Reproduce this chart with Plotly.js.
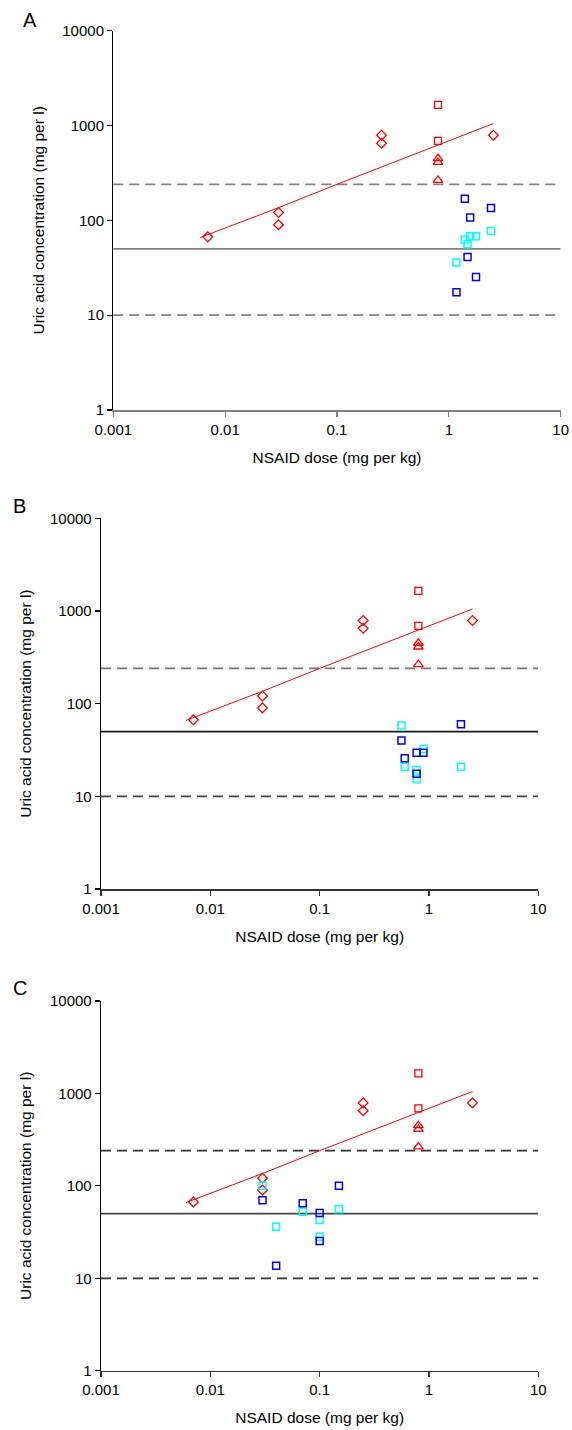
<!DOCTYPE html>
<html>
<head>
<meta charset="utf-8">
<script src="https://cdn.plot.ly/plotly-3.0.1.min.js"></script>
<style>
  html, body { margin: 0; padding: 0; background: #ffffff; }
  #chart { width: 572px; height: 1430px; }
</style>
</head>
<body>
<div id="chart"></div>
<script>
// ---------- data ----------
const doseTicks = [0.001, 0.01, 0.1, 1, 10];
const doseTickText = ["0.001", "0.01", "0.1", "1", "10"];
const uricTicks = [1, 10, 100, 1000, 10000];
const uricTickText = ["1", "10", "100", "1000", "10000"];

// red reference series (identical in all three panels)
const redDiamondDose = [0.007, 0.03, 0.03, 0.25, 0.25, 2.5];
const redDiamondUric = [67, 121, 90, 790, 650, 790];
const redSquareDose = [0.8, 0.8];
const redSquareUric = [1650, 690];
const redTriangleDose = [0.8, 0.8, 0.8];
const redTriangleUric = [450, 410, 265];
const fitDose = [0.006, 0.03, 0.1, 0.25, 0.4, 0.75, 1.35, 2.5];
const fitUric = [66, 136, 240, 365, 450, 600, 780, 1050];

// horizontal reference levels
const levelDose = [0.001, 10];
const upperLevel = 240;
const middleLevel = 50;
const lowerLevel = 10;

// panel A
const aBlueDose = [1.39, 2.38, 1.55, 1.47, 1.75, 1.17];
const aBlueUric = [169, 135, 107, 41, 25.3, 17.4];
const aCyanDose = [2.38, 1.55, 1.75, 1.39, 1.47, 1.17];
const aCyanUric = [77, 68, 68, 63, 56, 36];
// panel B
const bBlueDose = [1.96, 0.56, 0.77, 0.89, 0.6, 0.77];
const bBlueUric = [60, 40, 29.6, 29.6, 25.7, 17.5];
const bCyanDose = [0.56, 0.89, 0.6, 1.96, 0.77, 0.77];
const bCyanUric = [58, 32.4, 20.9, 20.9, 19.2, 15.4];
// panel C
const cBlueDose = [0.03, 0.04, 0.07, 0.1, 0.1, 0.15];
const cBlueUric = [70, 13.7, 65, 51, 25.3, 100];
const cCyanDose = [0.03, 0.04, 0.07, 0.1, 0.1, 0.15];
const cCyanUric = [100, 36, 52.5, 42.7, 28.2, 55.7];

const panelLabels = ["A", "B", "C"];
const xTitle = "NSAID dose (mg per kg)";
const yTitle = "Uric acid concentration (mg per l)";

// ---------- build ----------
const W = 572, H = 1430;
const panels = [
  { xs: 'x',  ys: 'y',  left: 113.3, right: 560.7, top: 30.7,  bottom: 410,
    blue: [aBlueDose, aBlueUric], cyan: [aCyanDose, aCyanUric],
    lineCols: ['#808080', '#808080', '#808080'], xLine: '#808080', label: [30, 20] },
  { xs: 'x2', ys: 'y2', left: 101, right: 538.3, top: 518.3, bottom: 889,
    blue: [bBlueDose, bBlueUric], cyan: [bCyanDose, bCyanUric],
    lineCols: ['#777777', '#1a1a1a', '#444444'], xLine: '#333333', label: [19.5, 506] },
  { xs: 'x3', ys: 'y3', left: 101, right: 538.3, top: 1001, bottom: 1370.7,
    blue: [cBlueDose, cBlueUric], cyan: [cCyanDose, cCyanUric],
    lineCols: ['#333333', '#444444', '#333333'], xLine: '#333333', label: [19.5, 988.5] }
];

const traces = [];
const layout = {
  width: W, height: H,
  margin: { l: 0, r: 0, t: 0, b: 0 },
  paper_bgcolor: '#ffffff', plot_bgcolor: '#ffffff',
  showlegend: false,
  font: { family: 'Liberation Sans, Arial, sans-serif', color: '#000000' },
  annotations: []
};

panels.forEach((p, i) => {
  const common = { xaxis: p.xs, yaxis: p.ys, hoverinfo: 'skip', cliponaxis: false };
  const lv = [[upperLevel, 'dash'], [middleLevel, 'solid'], [lowerLevel, 'dash']];
  lv.forEach((l, k) => {
    traces.push(Object.assign({}, common, {
      type: 'scatter', mode: 'lines', x: levelDose, y: [l[0], l[0]],
      line: { color: p.lineCols[k], width: 1.8, dash: l[1] === 'dash' ? '10px,6px' : 'solid' }
    }));
  });
  traces.push(Object.assign({}, common, {
    type: 'scatter', mode: 'lines', x: fitDose, y: fitUric,
    line: { color: '#ff0000', width: 1 }
  }));
  traces.push(Object.assign({}, common, {
    type: 'scatter', mode: 'markers', x: redDiamondDose, y: redDiamondUric,
    marker: { symbol: 'diamond-open', size: 7.5, color: '#ff0000', line: { width: 1.3, color: '#ff0000' } }
  }));
  traces.push(Object.assign({}, common, {
    type: 'scatter', mode: 'markers', x: redSquareDose, y: redSquareUric,
    marker: { symbol: 'square-open', size: 7, color: '#ff0000', line: { width: 1.3, color: '#ff0000' } }
  }));
  traces.push(Object.assign({}, common, {
    type: 'scatter', mode: 'markers', x: redTriangleDose, y: redTriangleUric,
    marker: { symbol: 'triangle-up-open', size: 8.5, color: '#ff0000', line: { width: 1.3, color: '#ff0000' } }
  }));
  traces.push(Object.assign({}, common, {
    type: 'scatter', mode: 'markers', x: p.cyan[0], y: p.cyan[1],
    marker: { symbol: 'square-open', size: 7, color: '#00ffff', line: { width: 1.5, color: '#00ffff' } }
  }));
  traces.push(Object.assign({}, common, {
    type: 'scatter', mode: 'markers', x: p.blue[0], y: p.blue[1],
    marker: { symbol: 'square-open', size: 7, color: '#0000ff', line: { width: 1.5, color: '#0000ff' } }
  }));

  const xName = i === 0 ? 'xaxis' : 'xaxis' + (i + 1);
  const yName = i === 0 ? 'yaxis' : 'yaxis' + (i + 1);
  layout[xName] = {
    type: 'log', range: [-3, 1], domain: [p.left / W, p.right / W], anchor: p.ys,
    showgrid: false, zeroline: false, showline: true, linecolor: p.xLine, linewidth: 1.5,
    ticks: 'outside', ticklen: 5, tickwidth: 1.2, tickcolor: p.xLine,
    tickmode: 'array', tickvals: doseTicks, ticktext: doseTickText,
    tickfont: { size: 15, color: '#000000' },
    title: { text: xTitle, font: { size: 15.5, color: '#000000' }, standoff: 15 },
    fixedrange: true
  };
  layout[yName] = {
    type: 'log', range: [0, 4], domain: [1 - p.bottom / H, 1 - p.top / H], anchor: p.xs,
    showgrid: false, zeroline: false, showline: true, linecolor: '#000000', linewidth: 1.3,
    ticks: 'outside', ticklen: 5, tickwidth: 1.2, tickcolor: '#000000',
    tickmode: 'array', tickvals: uricTicks, ticktext: uricTickText,
    tickfont: { size: 15, color: '#000000' },
    title: { text: yTitle, font: { size: 15.5, color: '#000000' }, standoff: 14 },
    fixedrange: true
  };
  layout.annotations.push({
    xref: 'paper', yref: 'paper', x: p.label[0] / W, y: 1 - p.label[1] / H,
    xanchor: 'center', yanchor: 'middle', showarrow: false,
    text: panelLabels[i], font: { size: 20, color: '#000000' }
  });
});

Plotly.newPlot('chart', traces, layout, { staticPlot: true, displayModeBar: false });
</script>
</body>
</html>
